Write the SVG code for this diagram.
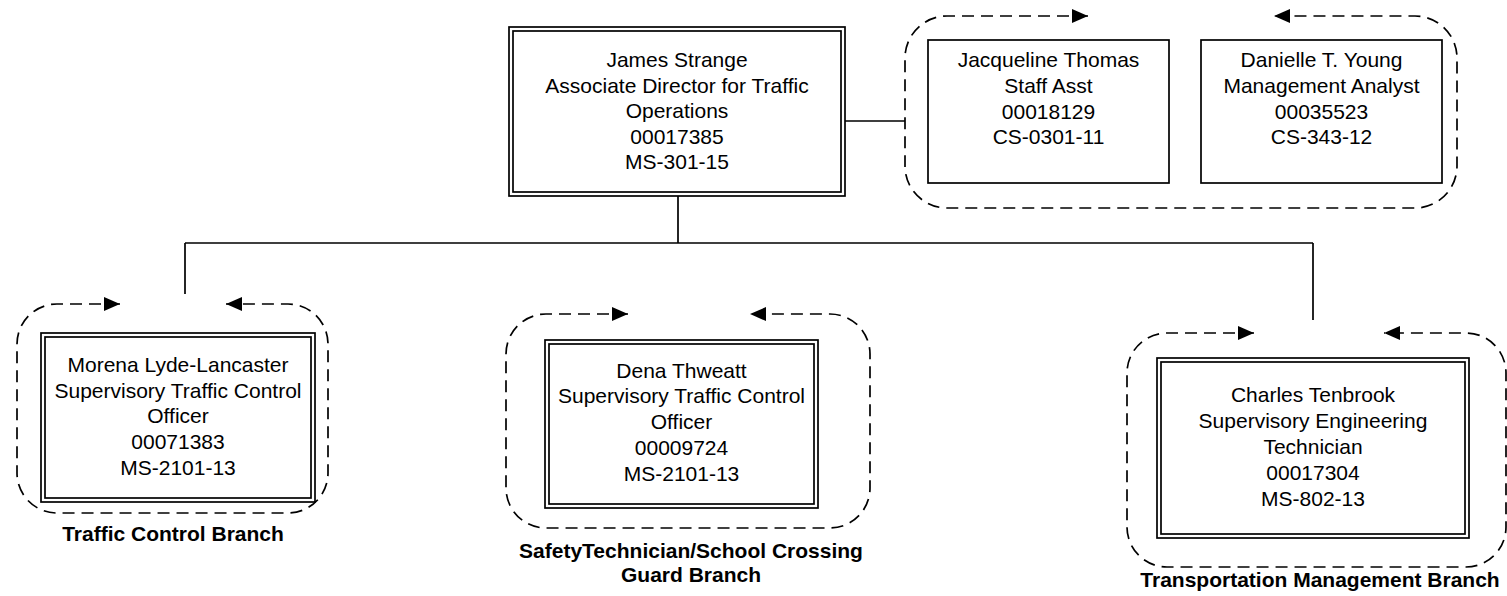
<svg xmlns="http://www.w3.org/2000/svg" width="1507" height="596" viewBox="0 0 1507 596">
<style>
.bg{fill:#fff}
.box{fill:#fff;stroke:#000;stroke-width:1.7}
.conn{fill:none;stroke:#000;stroke-width:1.7}
.grp{fill:none;stroke:#000;stroke-width:1.7;stroke-dasharray:12 7;marker-start:url(#ah);marker-end:url(#ah)}
text{font-family:"Liberation Sans",Arial,sans-serif;font-size:21px;text-anchor:middle;fill:#000}
.lbl{font-weight:bold;font-size:21px}
</style>
<defs>
<marker id="ah" markerUnits="userSpaceOnUse" viewBox="0 0 16 14" refX="16" refY="7" markerWidth="16" markerHeight="14" orient="auto-start-reverse">
<path d="M0,0 L16,7 L0,14 z" fill="#000"/>
</marker>
</defs>
<rect class="bg" x="0" y="0" width="1507" height="596"/>

<g id="connectors">
<path class="conn" d="M678,196 V243 M185,243 H1313 M185,243 V294 M1313,243 V320 M845,121 H905"/>
</g>

<g id="group-staff">
<path class="grp" d="M1088,16 H947 A42,42 0 0 0 905,58 V166 A42,42 0 0 0 947,208 H1415 A42,42 0 0 0 1457,166 V58 A42,42 0 0 0 1415,16 H1274"/>
</g>

<g id="node-strange">
<rect class="box" x="509" y="27" width="336" height="169"/>
<rect class="box" x="513" y="31" width="328" height="161"/>
<text x="677" y="67">James Strange</text>
<text x="677" y="93">Associate Director for Traffic</text>
<text x="677" y="118">Operations</text>
<text x="677" y="144">00017385</text>
<text x="677" y="169">MS-301-15</text>
</g>

<g id="node-thomas">
<rect class="box" x="928" y="40" width="241" height="143"/>
<text x="1048.5" y="67">Jacqueline Thomas</text>
<text x="1048.5" y="93">Staff Asst</text>
<text x="1048.5" y="119">00018129</text>
<text x="1048.5" y="144">CS-0301-11</text>
</g>

<g id="node-young">
<rect class="box" x="1201" y="40" width="241" height="143"/>
<text x="1321.5" y="67">Danielle T. Young</text>
<text x="1321.5" y="93">Management Analyst</text>
<text x="1321.5" y="119">00035523</text>
<text x="1321.5" y="144">CS-343-12</text>
</g>

<g id="node-lancaster">
<path class="grp" d="M120,304 H57 A40,40 0 0 0 17,344 V473 A40,40 0 0 0 57,513 H288 A40,40 0 0 0 328,473 V344 A40,40 0 0 0 288,304 H226"/>
<rect class="box" x="41" y="333" width="274" height="169"/>
<rect class="box" x="45" y="337" width="266" height="161"/>
<text x="178" y="372">Morena Lyde-Lancaster</text>
<text x="178" y="398">Supervisory Traffic Control</text>
<text x="178" y="423">Officer</text>
<text x="178" y="449">00071383</text>
<text x="178" y="475">MS-2101-13</text>
<text class="lbl" x="173" y="541">Traffic Control Branch</text>
</g>

<g id="node-thweatt">
<path class="grp" d="M628,314 H546 A40,40 0 0 0 506,354 V488 A40,40 0 0 0 546,528 H830 A40,40 0 0 0 870,488 V354 A40,40 0 0 0 830,314 H750"/>
<rect class="box" x="545" y="340" width="273" height="168"/>
<rect class="box" x="549" y="344" width="265" height="160"/>
<text x="681.5" y="378">Dena Thweatt</text>
<text x="681.5" y="403">Supervisory Traffic Control</text>
<text x="681.5" y="429">Officer</text>
<text x="681.5" y="455">00009724</text>
<text x="681.5" y="481">MS-2101-13</text>
<text class="lbl" x="691" y="558">SafetyTechnician/School Crossing</text>
<text class="lbl" x="691" y="582">Guard Branch</text>
</g>

<g id="node-tenbrook">
<path class="grp" d="M1254,333 H1167 A40,40 0 0 0 1127,373 V527 A40,40 0 0 0 1167,567 H1466 A40,40 0 0 0 1506,527 V373 A40,40 0 0 0 1466,333 H1384"/>
<rect class="box" x="1157" y="358" width="312" height="180"/>
<rect class="box" x="1161" y="362" width="304" height="172"/>
<text x="1313" y="402">Charles Tenbrook</text>
<text x="1313" y="428">Supervisory Engineering</text>
<text x="1313" y="454">Technician</text>
<text x="1313" y="480">00017304</text>
<text x="1313" y="506">MS-802-13</text>
<text class="lbl" x="1320" y="587">Transportation Management Branch</text>
</g>
</svg>
